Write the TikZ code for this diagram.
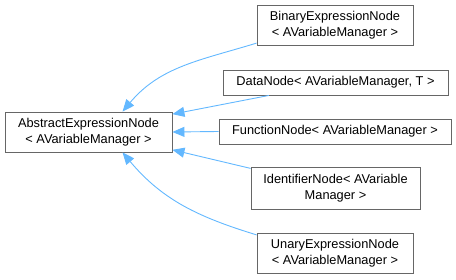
\documentclass[tikz,border=0pt]{standalone}
\usepackage{fontspec}
\setmainfont{Liberation Sans}
\usetikzlibrary{arrows.meta, positioning}

\definecolor{edgeblue}{HTML}{63B8FF}
\definecolor{boxgray}{HTML}{666666}

\begin{document}
\begin{tikzpicture}[x=1pt, y=1pt,
    cls/.style={draw=boxgray, line width=0.9pt, fill=white, inner sep=0pt,
        align=center, font=\fontsize{12.8}{16}\selectfont},
    inherit/.style={draw=edgeblue, line width=0.9pt,
        {Triangle[length=12pt, width=10pt, fill=edgeblue]}-}]
    \useasboundingbox (0, 0) rectangle (456, 279);

    \node[cls, minimum width=167pt, minimum height=40pt] (base) at (88.5, 147) {AbstractExpressionNode\\< AVariableManager >};

    \node[cls, minimum width=156pt, minimum height=40pt] (binary) at (335, 254) {BinaryExpressionNode\\< AVariableManager >};
    \node[cls, minimum width=225pt, minimum height=25pt] (data) at (335.5, 196.5) {DataNode< AVariableManager, T >};
    \node[cls, minimum width=232pt, minimum height=25pt] (function) at (335, 147.5) {FunctionNode< AVariableManager >};
    \node[cls, minimum width=169pt, minimum height=42pt] (identifier) at (335.5, 91) {IdentifierNode< AVariable\\Manager >};
    \node[cls, minimum width=156pt, minimum height=40pt] (unary) at (335, 26) {UnaryExpressionNode\\< AVariableManager >};

    \draw[inherit] (base.31) to[out=50, in=197] (binary.193);
    \draw[inherit] (base.12) -- (data.191);
    \draw[inherit] (base.east) -- (function.west);
    \draw[inherit] (base.-12) -- (identifier.167);
    \draw[inherit] (base.-31) to[out=-50, in=163] (unary.167);
\end{tikzpicture}
\end{document}
